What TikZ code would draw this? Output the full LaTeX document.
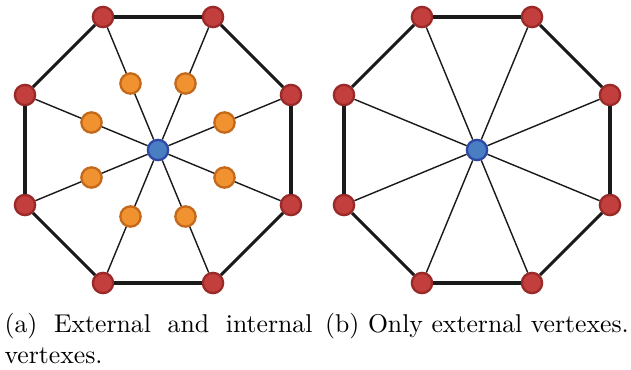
\documentclass[tikz,border=0pt]{standalone}
\usepackage{tikz}

\definecolor{extred}{HTML}{C23F3E}
\definecolor{extredb}{HTML}{9A2A28}
\definecolor{intorange}{HTML}{F0922F}
\definecolor{intoranged}{HTML}{C4691B}
\definecolor{hubblue}{HTML}{4A7EC2}
\definecolor{hubblued}{HTML}{2E48A6}
\definecolor{edgeblack}{HTML}{1A1A1A}

\begin{document}
\begin{tikzpicture}[x=0.3891pt,y=-0.3891pt,
    extv/.style={draw=extredb,fill=extred,circle,line width=0.9pt,minimum size=7.9pt,inner sep=0pt},
    intv/.style={draw=intoranged,fill=intorange,circle,line width=0.9pt,minimum size=7.9pt,inner sep=0pt},
    hubv/.style={draw=hubblued,fill=hubblue,circle,line width=0.9pt,minimum size=7.9pt,inner sep=0pt},
    rim/.style={draw=edgeblack,line width=1.2pt},
    spoke/.style={draw=edgeblack,line width=0.55pt}]
  \useasboundingbox (0,0) rectangle (631,369);

  % (a) external and internal vertexes
  \node[hubv] (Ac) at (158,150) {};
  \node[extv] (A1) at (291,95) {};
  \node[extv] (A2) at (213,17) {};
  \node[extv] (A3) at (103,17) {};
  \node[extv] (A4) at (25,95) {};
  \node[extv] (A5) at (25,205) {};
  \node[extv] (A6) at (103,283) {};
  \node[extv] (A7) at (213,283) {};
  \node[extv] (A8) at (291,205) {};
  \node[intv] (a1) at (224.5,122.5) {};
  \node[intv] (a2) at (185.5,83.5) {};
  \node[intv] (a3) at (130.5,83.5) {};
  \node[intv] (a4) at (91.5,122.5) {};
  \node[intv] (a5) at (91.5,177.5) {};
  \node[intv] (a6) at (130.5,216.5) {};
  \node[intv] (a7) at (185.5,216.5) {};
  \node[intv] (a8) at (224.5,177.5) {};

  \path[rim] (A1) edge (A2) (A2) edge (A3) (A3) edge (A4) (A4) edge (A5)
             (A5) edge (A6) (A6) edge (A7) (A7) edge (A8) (A8) edge (A1);
  \path[spoke] (A1) edge (a1) (A2) edge (a2) (A3) edge (a3) (A4) edge (a4)
               (A5) edge (a5) (A6) edge (a6) (A7) edge (a7) (A8) edge (a8);
  \path[spoke] (a1) edge (Ac) (a2) edge (Ac) (a3) edge (Ac) (a4) edge (Ac)
               (a5) edge (Ac) (a6) edge (Ac) (a7) edge (Ac) (a8) edge (Ac);

  % (b) only external vertexes
  \node[hubv] (Bc) at (477,150) {};
  \node[extv] (B1) at (610,95) {};
  \node[extv] (B2) at (532,17) {};
  \node[extv] (B3) at (422,17) {};
  \node[extv] (B4) at (344,95) {};
  \node[extv] (B5) at (344,205) {};
  \node[extv] (B6) at (422,283) {};
  \node[extv] (B7) at (532,283) {};
  \node[extv] (B8) at (610,205) {};

  \path[rim] (B1) edge (B2) (B2) edge (B3) (B3) edge (B4) (B4) edge (B5)
             (B5) edge (B6) (B6) edge (B7) (B7) edge (B8) (B8) edge (B1);
  \path[spoke] (B1) edge (Bc) (B2) edge (Bc) (B3) edge (Bc) (B4) edge (Bc)
               (B5) edge (Bc) (B6) edge (Bc) (B7) edge (Bc) (B8) edge (Bc);

  % captions
  \node[anchor=north west,inner sep=0pt,text width=119.8pt,align=justify] (capa) at (4,313)
    {\hyphenpenalty=10000\tolerance=9999\hbadness=10000(a) External and internal vertexes.};
  \node[anchor=base,inner sep=0pt] (capb) at (477,332) {(b) Only external vertexes.};
\end{tikzpicture}
\end{document}
